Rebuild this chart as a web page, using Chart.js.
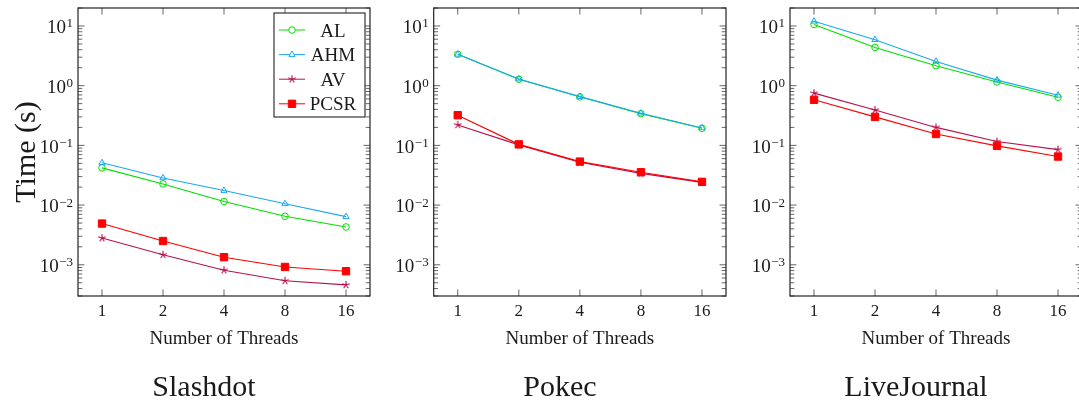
<!DOCTYPE html>
<html>
<head>
<meta charset="utf-8">
<script src="https://cdn.jsdelivr.net/npm/chart.js@4.4.0/dist/chart.umd.min.js"></script>
<style>
    body { margin: 0; width: 1079px; height: 402px; overflow: hidden; background: #fff; position: relative; }
    canvas { position: absolute; top: 0; }
</style>
</head>
<body>
<canvas id="chartSlashdot" width="372" height="402" style="left:0px;width:372px;height:402px"></canvas>
<canvas id="chartPokec" width="356" height="402" style="left:372px;width:356px;height:402px"></canvas>
<canvas id="chartLiveJournal" width="356" height="402" style="left:728px;width:356px;height:402px"></canvas>
<script>
// 공통 데이터
const threads = [1, 2, 4, 8, 16];
const seriesNames = ['AL', 'AHM', 'AV', 'PCSR'];
const graphNames = ['Slashdot', 'Pokec', 'LiveJournal'];
const yTickExponents = [-3, -2, -1, 0, 1];

// Slashdot
const slashdotAL = [0.042, 0.0226, 0.0115, 0.0065, 0.0043];
const slashdotAHM = [0.051, 0.0285, 0.0175, 0.0105, 0.0064];
const slashdotAV = [0.0028, 0.00147, 0.00081, 0.00054, 0.00046];
const slashdotPCSR = [0.0049, 0.0025, 0.00134, 0.00092, 0.00078];

// Pokec
const pokecAL = [3.35, 1.28, 0.65, 0.34, 0.193];
const pokecAHM = [3.35, 1.29, 0.655, 0.345, 0.196];
const pokecAV = [0.22, 0.102, 0.052, 0.034, 0.024];
const pokecPCSR = [0.32, 0.104, 0.0535, 0.0355, 0.0245];

// LiveJournal
const ljAL = [10.6, 4.37, 2.16, 1.15, 0.64];
const ljAHM = [12.0, 5.9, 2.55, 1.24, 0.69];
const ljAV = [0.75, 0.39, 0.20, 0.116, 0.085];
const ljPCSR = [0.58, 0.30, 0.155, 0.098, 0.065];

const FONT = "'Liberation Serif', 'DejaVu Serif', serif";
const TEXT = '#1a1a1a';
const AV_COLOR = '#b8104e';

// 5갈래 별 마커 (pgfplots star 모양)
function makeStar(color) {
    const c = document.createElement('canvas');
    c.width = 10; c.height = 10;
    const g = c.getContext('2d');
    g.strokeStyle = color;
    g.lineWidth = 1.1;
    g.beginPath();
    for (let k = 0; k < 5; k++) {
        const ang = -Math.PI / 2 + k * 2 * Math.PI / 5;
        g.moveTo(5, 5);
        g.lineTo(5 + 4 * Math.cos(ang), 5 + 4 * Math.sin(ang));
    }
    g.stroke();
    return c;
}
const starMark = makeStar(AV_COLOR);

// 계열별 스타일
const seriesStyles = [
    { color: '#00e000', pointStyle: 'circle', radius: 3.3, fill: 'rgba(255,255,255,0)', order: 4 },
    { color: '#1aa8f0', pointStyle: 'triangle', radius: 3.6, fill: 'rgba(255,255,255,0)', order: 3 },
    { color: AV_COLOR, pointStyle: starMark, radius: 4, fill: AV_COLOR, order: 2 },
    { color: '#ff0000', pointStyle: 'rect', radius: 5.2, fill: '#ff0000', order: 1 }
];

// 축 틀, 눈금, y 라벨, 부제목 그리기
const axisFrame = {
    id: 'axisFrame',
    beforeDatasetsDraw(chart) {
        const ctx = chart.ctx;
        const a = chart.chartArea;
        const x = chart.scales.x;
        const y = chart.scales.y;
        ctx.save();
        ctx.strokeStyle = '#555';
        ctx.lineWidth = 0.9;
        ctx.beginPath();
        threads.forEach(function(t){
            const px = x.getPixelForValue(t);
            ctx.moveTo(px, a.bottom); ctx.lineTo(px, a.bottom - 6.5);
            ctx.moveTo(px, a.top); ctx.lineTo(px, a.top + 6.5);
        });
        for (let e = -4; e <= 1; e++) {
            for (let k = 1; k <= 9; k++) {
                const v = k * Math.pow(10, e);
                if (v < y.min || v > y.max) continue;
                const py = y.getPixelForValue(v);
                const len = k === 1 ? 6.5 : 4.3;
                ctx.moveTo(a.left, py); ctx.lineTo(a.left + len, py);
                ctx.moveTo(a.right, py); ctx.lineTo(a.right - len, py);
            }
        }
        ctx.stroke();
        ctx.strokeStyle = '#222';
        ctx.lineWidth = 1.2;
        ctx.strokeRect(a.left, a.top, a.right - a.left, a.bottom - a.top);

        // y 눈금 라벨 (10의 거듭제곱)
        ctx.fillStyle = TEXT;
        ctx.textBaseline = 'alphabetic';
        yTickExponents.forEach(function(e){
            const py = y.getPixelForValue(Math.pow(10, e));
            const exp = e < 0 ? '\u2212' + (-e) : String(e);
            ctx.font = '13px ' + FONT;
            const ew = ctx.measureText(exp).width;
            const ex = a.left - 5 - ew;
            ctx.textAlign = 'left';
            ctx.fillText(exp, ex, py + 1.5);
            ctx.font = '19px ' + FONT;
            ctx.textAlign = 'right';
            ctx.fillText('10', ex - 0.5, py + 7.3);
        });

        // 그래프 이름
        const name = chart.options.plugins.axisFrame.name;
        ctx.font = '30px ' + FONT;
        ctx.textAlign = 'center';
        ctx.fillText(name, (a.left + a.right) / 2 - 20, 395.5);
        ctx.restore();
    }
};

// 범례 박스 (차트 영역 안쪽 오른쪽 위)
const legendBox = {
    id: 'legendBox',
    afterDatasetsDraw(chart) {
        const ctx = chart.ctx;
        const a = chart.chartArea;
        const right = a.right - 5;
        const top = a.top + 5;
        const w = 91, h = 104;
        ctx.save();
        ctx.fillStyle = '#fff';
        ctx.fillRect(right - w, top, w, h);
        ctx.strokeStyle = '#222';
        ctx.lineWidth = 1.1;
        ctx.strokeRect(right - w, top, w, h);
        chart.data.datasets.forEach(function(ds, i){
            const st = seriesStyles[i];
            const cy = top + 17 + i * 24.6;
            const lx = right - w + 5;
            ctx.strokeStyle = st.color;
            ctx.lineWidth = 1;
            ctx.beginPath();
            ctx.moveTo(lx, cy); ctx.lineTo(lx + 26, cy);
            ctx.stroke();
            ctx.fillStyle = st.fill === 'rgba(255,255,255,0)' ? '#fff' : st.fill;
            Chart.helpers.drawPoint(ctx, { pointStyle: st.pointStyle, radius: st.radius, rotation: 0, borderWidth: 1 }, lx + 13, cy);
            ctx.fillStyle = TEXT;
            ctx.font = '19px ' + FONT;
            ctx.textAlign = 'center';
            ctx.textBaseline = 'alphabetic';
            ctx.fillText(ds.label, right - 32, cy + 6.5);
        });
        ctx.restore();
    }
};

function makeChart(canvasId, name, values, yWidth, showYTitle, showLegend) {
    const datasets = values.map(function(vals, i){
        const st = seriesStyles[i];
        return {
            label: seriesNames[i],
            data: threads.map(function(t, j){ return { x: t, y: vals[j] }; }),
            borderColor: st.color,
            backgroundColor: st.fill,
            pointBackgroundColor: st.fill,
            pointBorderColor: st.color,
            pointStyle: st.pointStyle,
            pointRadius: st.radius,
            pointBorderWidth: 1,
            borderWidth: 1.1,
            tension: 0,
            order: st.order,
            clip: false
        };
    });
    const plugins = [axisFrame];
    if (showLegend) plugins.push(legendBox);

    return new Chart(document.getElementById(canvasId).getContext('2d'), {
        type: 'line',
        data: { datasets: datasets },
        plugins: plugins,
        options: {
            responsive: false,
            maintainAspectRatio: false,
            animation: false,
            layout: { autoPadding: false, padding: { left: 0, right: 2, top: 8, bottom: 35 } },
            plugins: {
                legend: { display: false },
                tooltip: { enabled: false },
                title: { display: false },
                axisFrame: { name: name }
            },
            scales: {
                x: {
                    type: 'logarithmic',
                    position: 'bottom',
                    min: Math.pow(2, -24 / 61),
                    max: 16 * Math.pow(2, 24 / 61),
                    afterBuildTicks: function(scale){
                        scale.ticks = threads.map(function(v){ return { value: v }; });
                    },
                    afterFit: function(scale){ scale.height = 71; },
                    grid: { display: false, drawTicks: false },
                    border: { display: false },
                    ticks: {
                        padding: 5.5,
                        maxRotation: 0,
                        color: TEXT,
                        font: { family: FONT, size: 17 },
                        callback: function(v){ return String(v); }
                    },
                    title: {
                        display: true,
                        text: 'Number of Threads',
                        color: TEXT,
                        font: { family: FONT, size: 19 },
                        padding: { top: 0, bottom: 16.5 }
                    }
                },
                y: {
                    type: 'logarithmic',
                    min: 3e-4,
                    max: 20,
                    afterBuildTicks: function(scale){
                        scale.ticks = yTickExponents.map(function(e){ return { value: Math.pow(10, e) }; });
                    },
                    afterFit: function(scale){ scale.width = yWidth; },
                    grid: { display: false, drawTicks: false },
                    border: { display: false },
                    ticks: { display: false },
                    title: {
                        display: showYTitle,
                        text: 'Time (s)',
                        color: TEXT,
                        font: { family: FONT, size: 30 },
                        padding: { top: 9, bottom: 0 }
                    }
                }
            }
        }
    });
}

document.addEventListener("DOMContentLoaded", function(){
    makeChart('chartSlashdot', graphNames[0], [slashdotAL, slashdotAHM, slashdotAV, slashdotPCSR], 78, true, true);
    makeChart('chartPokec', graphNames[1], [pokecAL, pokecAHM, pokecAV, pokecPCSR], 61.7, false, false);
    makeChart('chartLiveJournal', graphNames[2], [ljAL, ljAHM, ljAV, ljPCSR], 62, false, false);
});
</script>
</body>
</html>
